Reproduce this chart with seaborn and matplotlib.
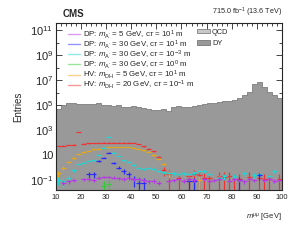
import numpy as np
import pandas as pd
import seaborn as sns
import matplotlib.pyplot as plt
import matplotlib.ticker as mticker
from matplotlib.lines import Line2D
from matplotlib.patches import Patch

# binning: 2 GeV bins from 10 to 100 GeV
edges = np.arange(10, 101, 2)
centers = edges[:-1] + 1.0
nan = np.nan

# background (log10 of entries per bin)
dy_log10 = [4.72, 4.98, 5.18, 5.18, 5.10, 5.08, 5.06, 5.10, 5.14, 5.02,
            5.00, 4.92, 4.98, 4.88, 4.86, 4.90, 4.86, 4.74, 4.72, 4.58,
            4.60, 4.68, 4.50, 4.86, 4.92, 4.88, 4.86, 4.90, 5.00, 5.12,
            5.14, 5.20, 5.22, 5.30, 5.34, 5.42, 5.55, 5.80, 6.07, 6.70,
            6.87, 6.45, 6.07, 5.80, 5.53]
qcd = [0.0] * 45

# signals (log10 of entries per bin, nan = empty bin)
dp5_ct1 = [nan, -1.2, -1.1, -1.0, nan, -0.95, -0.9, -1.0, -0.8, -0.75,
           -0.75, -0.8, -0.85, -0.9, -0.85, -0.95, -0.9, -1.0, -1.1, -1.05,
           -1.2, nan, -1.1, -1.0, -0.95, -1.05, -0.9, -1.0, nan, -0.95,
           -1.1, -1.0, -0.9, nan, -1.05, -0.95, -1.0, -1.1, -0.9, -1.0,
           nan, -1.0, -0.9, -1.05, -1.0]
dp30_ct1 = [nan, nan, nan, nan, nan, nan, -0.5, -0.5, 0.5, 0.8,
            1.2, 0.4, 0.0, -0.3, -0.5, -0.9, -1.2, -1.2, nan, nan,
            nan, nan, nan, nan, nan, nan, -1.1, -1.1, nan, nan,
            nan, nan, nan, nan, nan, nan, -1.0, nan, nan, nan,
            -0.6, nan, nan, nan, nan]
dp30_ctm3 = [-1.0, -1.1, -0.8, -0.2, 0.3, 0.4, 0.55, 0.6, 1.0, 1.6,
             2.44, 1.2, 0.9, 0.6, 0.45, 0.2, -0.05, -0.1, -0.05, -0.1,
             -0.3, -0.35, -0.45, -0.45, -0.5, -0.45, -0.5, -0.4, -0.3, -0.3,
             -0.5, nan, -0.8, -0.7, nan, -0.7, nan, -0.45, nan, -0.6,
             -0.55, nan, -0.7, -0.3, nan]
dp30_ct0 = [nan, nan, nan, nan, nan, nan, nan, nan, nan, -1.45,
            -1.3, nan, nan, nan, nan, nan, nan, nan, nan, nan,
            nan, nan, nan, nan, nan, nan, nan, nan, nan, nan,
            nan, nan, nan, nan, nan, nan, nan, nan, nan, nan,
            nan, nan, nan, nan, nan]
hv5_ct1 = [-0.45, 0.0, 0.44, 0.75, 1.08, 1.22, 1.35, 1.45, 1.52, 1.58,
           1.62, 1.64, 1.66, 1.66, 1.64, 1.58, 1.48, 1.38, 1.28, 1.0,
           0.7, 0.3, -0.45, nan, nan, nan, -1.1, nan, -1.0, nan,
           nan, nan, nan, nan, nan, nan, nan, nan, nan, nan,
           nan, nan, nan, nan, nan]
hv20_ctm1 = [1.72, 1.76, 1.80, 1.84, 2.84, 1.90, 1.93, 1.95, 1.97, 1.98,
             2.00, 2.00, 2.00, 2.00, 2.00, 1.95, 1.88, 1.70, 1.50, 1.30,
             0.85, -0.2, -0.5, nan, -0.85, nan, -0.7, -0.5, -0.6, -0.85,
             -0.8, nan, -0.7, -0.75, -0.7, -0.9, -0.9, nan, -0.75, nan,
             -0.8, -0.9, -0.9, nan, -0.9]

signals = [
    (dp5_ct1, "#b836e8", 0.01, r"DP: $m_{\mathrm{A'}}$ = 5 GeV, c$\tau$ = $10^{1}$ m"),
    (dp30_ct1, "#2a2aff", 0.08, r"DP: $m_{\mathrm{A'}}$ = 30 GeV, c$\tau$ = $10^{1}$ m"),
    (dp30_ctm3, "#22d4d4", 0.04, r"DP: $m_{\mathrm{A'}}$ = 30 GeV, c$\tau$ = $10^{-3}$ m"),
    (dp30_ct0, "#33cc33", 0.05, r"DP: $m_{\mathrm{A'}}$ = 30 GeV, c$\tau$ = $10^{0}$ m"),
    (hv5_ct1, "#e6a817", 0.12, r"HV: $m_{\mathrm{DH}}$ = 5 GeV, c$\tau$ = $10^{1}$ m"),
    (hv20_ctm1, "#f03232", 0.3, r"HV: $m_{\mathrm{DH}}$ = 20 GeV, c$\tau$ = $10^{-1}$ m"),
]

sns.set_style("ticks")
plt.rcParams["font.family"] = ["Liberation Sans", "DejaVu Sans"]
plt.rcParams["mathtext.fontset"] = "custom"
plt.rcParams["mathtext.rm"] = "Liberation Sans"
plt.rcParams["mathtext.it"] = "Liberation Sans:italic"
plt.rcParams["mathtext.bf"] = "Liberation Sans:bold"

fig = plt.figure(figsize=(2.93, 2.40), dpi=100)
ax = fig.add_axes([0.191, 0.208, 0.771, 0.696])
ax.set_yscale("log")

bkg = pd.DataFrame({
    "mass": np.concatenate([centers, centers]),
    "w": np.concatenate([qcd, 10 ** np.array(dy_log10)]),
    "process": ["QCD"] * 45 + ["DY"] * 45,
})
sns.histplot(data=bkg, x="mass", weights="w", hue="process", hue_order=["DY", "QCD"],
             bins=45, binrange=(10, 100), multiple="stack", element="step", fill=True, alpha=1,
             palette={"QCD": "#c8c8c8", "DY": "#999999"}, edgecolor="#6e6e6e",
             linewidth=0.5, legend=False, ax=ax)

# draw the high-rate signals first so the sparse ones stay visible
for vals, col, w, lab in signals[::-1]:
    v = 10 ** np.array(vals, dtype=float)
    err = np.sqrt(v * w)
    lo = np.minimum(err, v * 0.9999)
    ax.errorbar(centers, v, xerr=1.0, yerr=[lo, err], fmt="none", ecolor=col,
                elinewidth=0.9, capsize=0)

ax.set_xlim(10, 100)
ax.set_ylim(0.0158, 3.6e11)

ymaj = [1e-1, 1e1, 1e3, 1e5, 1e7, 1e9, 1e11]
ax.yaxis.set_major_locator(mticker.FixedLocator(ymaj))
ax.yaxis.set_major_formatter(mticker.FixedFormatter(
    [r"$10^{-1}$", "10", r"$10^{3}$", r"$10^{5}$", r"$10^{7}$", r"$10^{9}$", r"$10^{11}$"]))
ax.yaxis.set_minor_locator(mticker.FixedLocator([1e-2, 1, 1e2, 1e4, 1e6, 1e8, 1e10]))
ax.yaxis.set_minor_formatter(mticker.NullFormatter())
ax.xaxis.set_major_locator(mticker.MultipleLocator(10))
ax.xaxis.set_minor_locator(mticker.MultipleLocator(2))

ax.tick_params(which="both", direction="in", top=True, right=True, width=0.6)
ax.tick_params(which="major", length=4)
ax.tick_params(which="minor", length=2.2)
ax.tick_params(axis="y", which="major", labelsize=8, pad=2)
ax.tick_params(axis="x", which="major", labelsize=5.5, pad=2.5)
for s in ax.spines.values():
    s.set_linewidth(0.8)

ax.set_xlabel(r"$m^{\mu\mu}$ [GeV]", fontsize=5.5, loc="right", labelpad=8)
ax.set_ylabel("Entries", fontsize=7, labelpad=5)

ax.text(0.03, 1.025, "CMS", transform=ax.transAxes, fontsize=7, fontweight="bold",
        ha="left", va="bottom")
ax.text(1.0, 1.025, r"715.0 fb$^{-1}$ (13.6 TeV)", transform=ax.transAxes, fontsize=5.2,
        ha="right", va="bottom")

sig_handles = [Line2D([0], [0], color=c, lw=1.0, alpha=0.5) for _, c, _, _ in signals]
sig_labels = [lab for _, _, _, lab in signals]
leg1 = ax.legend(sig_handles, sig_labels, loc="upper left", bbox_to_anchor=(68 / 293, 1 - 28 / 240),
                 bbox_transform=fig.transFigure, frameon=False, fontsize=5.7,
                 handlelength=1.5, handletextpad=0.35, labelspacing=-0.3,
                 borderpad=0, borderaxespad=0)
ax.add_artist(leg1)
bkg_handles = [Patch(facecolor="#c8c8c8", edgecolor="#808080", lw=0.6),
               Patch(facecolor="#999999", edgecolor="#777777", lw=0.6)]
ax.legend(bkg_handles, ["QCD", "DY"], loc="upper left", bbox_to_anchor=(197 / 293, 1 - 29 / 240),
          bbox_transform=fig.transFigure, frameon=False, fontsize=5.3,
          handlelength=1.7, handleheight=0.5, handletextpad=0.35, labelspacing=0.55,
          borderpad=0, borderaxespad=0)

fig.savefig("out.png", dpi=100)
